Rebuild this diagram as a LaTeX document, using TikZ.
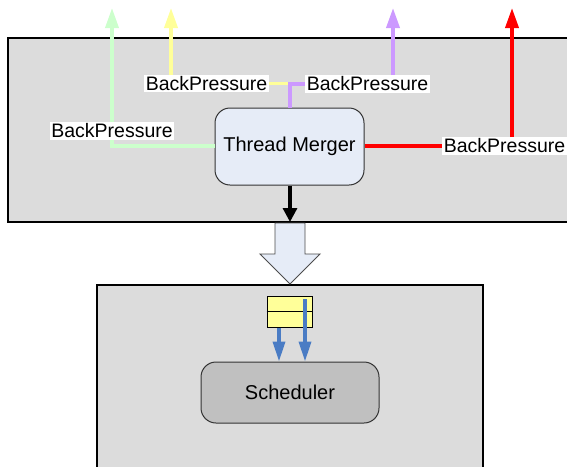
\documentclass[tikz,border=0pt]{standalone}
\usepackage{fontspec}
\setmainfont{Liberation Sans}
\usetikzlibrary{arrows.meta}
\definecolor{panel}{HTML}{DCDCDC}
\definecolor{nodefill}{HTML}{E6ECF7}
\definecolor{schedfill}{HTML}{C0C0C0}
\definecolor{bpgreen}{HTML}{CCFFCC}
\definecolor{bpyellow}{HTML}{FFFF99}
\definecolor{bppurple}{HTML}{CC99FF}
\definecolor{bpred}{HTML}{FF0000}
\definecolor{qyellow}{HTML}{FFFF99}
\definecolor{flowblue}{HTML}{4A7CC4}
\tikzset{
  panelbox/.style={draw=black, line width=1.5pt, fill=panel},
  procbox/.style={draw=black!80, line width=1pt, rounded corners=15pt, align=center,
     font=\fontsize{20}{23}\selectfont, inner sep=0pt},
  bplabel/.style={fill=white, inner sep=1.5pt, font=\fontsize{19.5}{22}\selectfont},
  bpline/.style={line width=3.6pt},
  bparrow/.style={line width=3.6pt, -{Triangle[length=20pt,width=13pt]}},
  blueflow/.style={draw=flowblue, line width=3.4pt, -{Triangle[length=20pt,width=12pt]}},
}
\begin{document}
\begin{tikzpicture}[x=1pt,y=-1pt]
\useasboundingbox (0,0) rectangle (567,466);
% panels
\draw[panelbox] (580,38) -- (8,38) -- (8,222) -- (580,222);
\draw[panelbox] (97,480) -- (97,285) -- (483,285) -- (483,480);
% thread merger
\node[procbox, fill=nodefill, minimum width=149pt, minimum height=77pt] (tm) at (289.5,146.5) {Thread Merger};
% labels
\node[bplabel] (lg) at (112,131) {BackPressure};
\node[bplabel] (ly) at (206.5,83.5) {BackPressure};
\node[bplabel] (lp) at (367.5,84) {BackPressure};
\node[bplabel] (lr) at (504.5,146) {BackPressure};
% top tips
\coordinate (tg) at (112,8);
\coordinate (ty) at (171,8);
\coordinate (tp) at (393,8);
\coordinate (tr) at (512,8);
% green
\draw[bpline, bpgreen] (tm.west |- 0,146) -- (112,146) -- (lg.south -| 112,0);
\draw[bparrow, bpgreen] (lg.north -| 112,0) -- (tg);
% yellow
\draw[bpline, bpyellow] (290,108) -- (290,83.5) -- (ly.east);
\draw[bparrow, bpyellow] (ly.north -| 171,0) -- (ty);
% purple
\draw[bpline, bppurple] (tm.north -| 290,0) -- (290,84) -- (lp.west);
\draw[bparrow, bppurple] (lp.north -| 393,0) -- (tp);
% red
\draw[bpline, bpred] (tm.east |- 0,146) -- (lr.west);
\draw[bparrow, bpred] (lr.north -| 512,0) -- (tr);
% black arrow
\coordinate (ba) at (290,222);
\draw[line width=3.2pt, -{Triangle[length=14pt,width=14pt]}] (tm.south -| 290,0) -- (ba);
% block arrow
\draw[draw=black!70, line width=0.9pt, fill=nodefill]
  (275,223) -- (305,223) -- (305,254) -- (320,254) -- (290,284) -- (260,254) -- (275,254) -- cycle;
% queue
\node[draw=black, line width=1pt, fill=qyellow, minimum width=45pt, minimum height=31pt, inner sep=0pt] (q) at (289.5,311.5) {};
\draw[line width=1pt] (q.west) -- (q.east);
% scheduler
\node[procbox, fill=schedfill, minimum width=178pt, minimum height=61pt] (sch) at (290,392.5) {Scheduler};
\draw[blueflow] (q.south -| 279,0) -- (sch.north -| 279,0);
\draw[blueflow] (305,299) -- (sch.north -| 305,0);
\end{tikzpicture}
\end{document}
